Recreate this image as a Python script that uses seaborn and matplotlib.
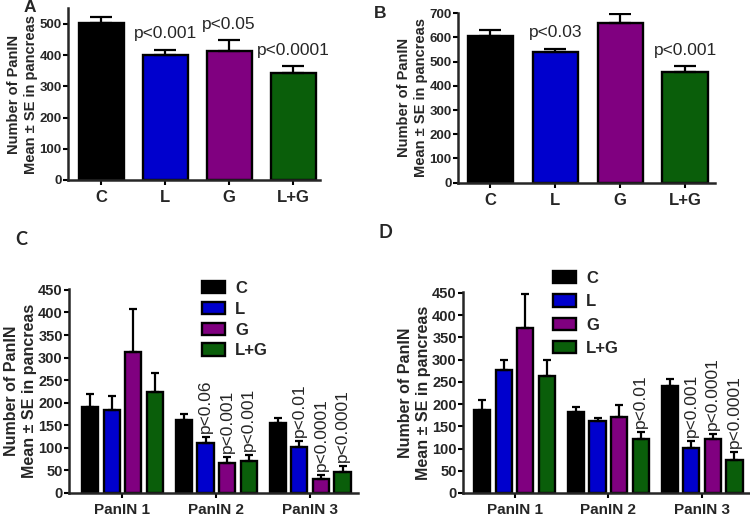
import numpy as np
import pandas as pd
import matplotlib
matplotlib.use("Agg")
import matplotlib.pyplot as plt
import seaborn as sns

# ---- data -------------------------------------------------------------
groups = ["C", "L", "G", "L+G"]
colors = ["#000000", "#0000CD", "#800080", "#0A5E0A"]

a_mean = [503, 400, 412, 342]
a_se = [20, 18, 36, 23]
a_text = [None, "p<0.001", "p<0.05", "p<0.0001"]

b_mean = [607, 540, 660, 458]
b_se = [25, 14, 38, 22]
b_text = [None, "p<0.03", None, "p<0.001"]

stages = ["PanIN 1", "PanIN 2", "PanIN 3"]

c_mean = {"C": [190, 161, 154], "L": [185, 111, 102],
          "G": [313, 67, 32], "L+G": [224, 71, 46]}
c_se = {"C": [30, 14, 13], "L": [31, 13, 13],
        "G": [94, 12, 8], "L+G": [42, 13, 14]}
c_text = {"C": [None, None, None], "L": [None, "p<0.06", "p<0.01"],
          "G": [None, "p<0.001", "p<0.0001"],
          "L+G": [None, "p<0.001", "p<0.0001"]}

d_mean = {"C": [186, 182, 240], "L": [277, 162, 102],
          "G": [370, 171, 121], "L+G": [262, 122, 74]}
d_se = {"C": [24, 11, 17], "L": [23, 7, 15],
        "G": [78, 26, 11], "L+G": [36, 15, 18]}
d_text = {"C": [None, None, None], "L": [None, None, "p<0.001"],
          "G": [None, None, "p<0.0001"],
          "L+G": [None, "p<0.01", "p<0.0001"]}

ylab = "Number of PanIN\nMean \u00b1 SE in pancreas"

sns.set_style("ticks")
plt.rcParams["font.family"] = ["Liberation Sans", "DejaVu Sans"]
plt.rcParams["font.weight"] = "bold"
plt.rcParams["axes.labelweight"] = "bold"

W, H = 750, 516
fig = plt.figure(figsize=(W / 100, H / 100), dpi=100)


def place(left, right, bottom, top):
    # pixel box -> figure fraction
    return fig.add_axes([left / W, 1 - bottom / H,
                         (right - left) / W, (bottom - top) / H])


def style_axis(ax, ymax, step, ytick_fs, xtick_fs):
    ax.set_ylim(0, ymax)
    ax.set_yticks(np.arange(0, ymax - 1, step))
    for s in ["top", "right"]:
        ax.spines[s].set_visible(False)
    for s in ["left", "bottom"]:
        ax.spines[s].set_linewidth(1.8)
    ax.tick_params(axis="both", width=1.5, length=3.5, color="black")
    ax.tick_params(axis="y", labelsize=ytick_fs, pad=1)
    ax.tick_params(axis="x", labelsize=xtick_fs, pad=4)
    ax.set_xlabel("")


def add_errors(ax, errs, texts, capsize, fs, rotate, offset):
    bars = [b for c in ax.containers for b in c]
    for bar, e, t in zip(bars, errs, texts):
        x = bar.get_x() + bar.get_width() / 2
        h = bar.get_height()
        ax.errorbar(x, h, yerr=[[0], [e]], fmt="none", ecolor="black",
                    elinewidth=1.6, capsize=capsize, capthick=1.6, zorder=1)
        if t:
            ax.annotate(t, (x, h + e), xytext=(0, offset),
                        textcoords="offset points", ha="center",
                        va="bottom", fontsize=fs, fontweight="normal",
                        rotation=90 if rotate else 0)


# ---- A and B: single bars per group --------------------------------------
for box, mean, se, txt, ymax, lims, lab, lpos in [
    ((68, 320, 180, 8.4), a_mean, a_se, a_text, 550, (-0.52, 3.42), "A", (30, 8)),
    ((458, 715, 182.7, 12.7), b_mean, b_se, b_text, 702, (-0.5, 3.46), "B", (380, 13)),
]:
    ax = place(*box)
    sns.barplot(x=groups, y=mean, hue=groups, palette=colors, legend=False,
                width=0.7, saturation=1, edgecolor="black", linewidth=1.7,
                errorbar=None, ax=ax)
    ax.set_xlim(*lims)
    style_axis(ax, ymax, 100, 9.5, 12)
    add_errors(ax, se, txt, 8, 12.5, False, 6)
    ax.set_ylabel(ylab, fontsize=10.5, labelpad=1, linespacing=1.25)
    fig.text(lpos[0] / W, 1 - lpos[1] / H, lab, fontsize=12.5,
             ha="center", va="center")

# ---- C and D: grouped by PanIN stage -------------------------------------
for box, means, ses, txts, lims, lab, lpos, legpos, lsp in [
    ((69, 358, 493, 289), c_mean, c_se, c_text, (-0.57, 2.51), "C", (21, 240), (0.46, 1.04), 0.35),
    ((463, 749, 493, 292), d_mean, d_se, d_text, (-0.55, 2.5), "D", (385, 232), (0.314, 1.105), 0.5),
]:
    ax = place(*box)
    df = pd.DataFrame([
        {"stage": s, "group": g, "mean": means[g][i]}
        for g in groups for i, s in enumerate(stages)
    ])
    sns.barplot(data=df, x="stage", y="mean", hue="group", hue_order=groups,
                palette=colors, width=0.92, gap=0.25, saturation=1,
                edgecolor="black", linewidth=1.7, errorbar=None, ax=ax)
    ax.set_xlim(*lims)
    style_axis(ax, 452, 50, 10.5, 11)
    handles = list(ax.containers)
    ax.legend(handles=handles, labels=groups, loc="upper left",
              bbox_to_anchor=legpos, frameon=False, fontsize=12,
              handlelength=1.4, handleheight=0.75, handletextpad=0.6,
              labelspacing=lsp, borderpad=0, borderaxespad=0)
    errs = [ses[g][i] for g in groups for i in range(len(stages))]
    texts = [txts[g][i] for g in groups for i in range(len(stages))]
    add_errors(ax, errs, texts, 3, 12.5, True, 3)
    ax.set_ylabel(ylab, fontsize=11.5, labelpad=1, linespacing=1.25)
    fig.text(lpos[0] / W, 1 - lpos[1] / H, lab, fontsize=13,
             family="Lato", ha="center", va="center")

plt.savefig("out.png", dpi=100)
